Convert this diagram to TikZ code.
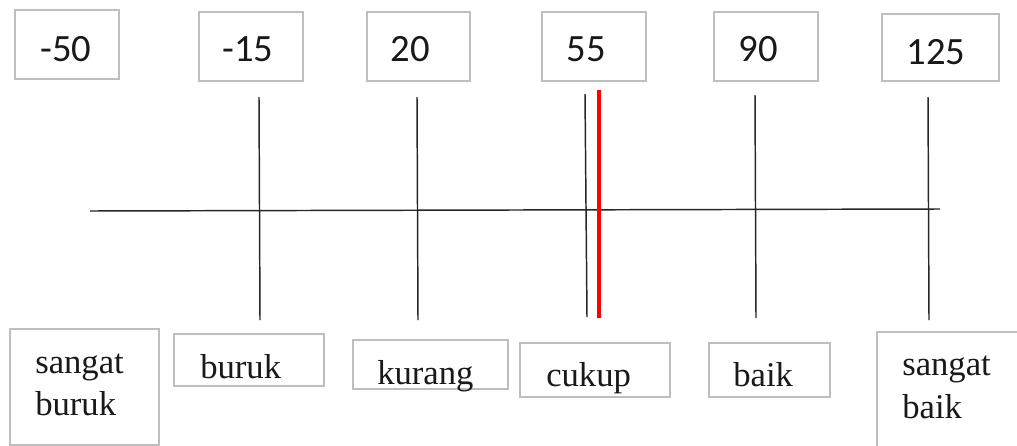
\documentclass[tikz,border=0pt]{standalone}
\usepackage{fontspec}
\setmainfont{LiberationSerif}[Extension=.ttf, UprightFont=*-Regular, BoldFont=*-Bold]
\newfontfamily\numfont{Carlito}
\newfontfamily\lblfont{LiberationSerif}[Extension=.ttf, UprightFont=*-Regular]
\definecolor{boxgray}{RGB}{190,190,190}
\definecolor{tickred}{RGB}{255,0,0}
\begin{document}
\begin{tikzpicture}[x=0.75pt,y=-0.75pt,
  box/.style={draw=boxgray, line width=1.1pt, inner sep=0pt, fill=white},
  numtxt/.style={inner sep=0pt, font=\numfont\fontsize{29pt}{34pt}\selectfont, text=black!90},
  lbltxt/.style={inner sep=0pt, anchor=base west, font=\lblfont\fontsize{26pt}{31pt}\selectfont, text=black!90},
  tick/.style={draw=black!85, line width=1.1pt},
  redtick/.style={draw=tickred, line width=3pt}]
\useasboundingbox (0,0) rectangle (1017,446);
\clip (0,0) rectangle (1017,446);
% top value boxes
\node[box, minimum width=78pt, minimum height=51.75pt] (n1) at (67,44.5) {};
\node[box, minimum width=78pt, minimum height=51.75pt] (n2) at (251,46.5) {};
\node[box, minimum width=77.25pt, minimum height=51.75pt] (n3) at (418.5,46.5) {};
\node[box, minimum width=78pt, minimum height=51.75pt] (n4) at (594,46.5) {};
\node[box, minimum width=78pt, minimum height=51.75pt] (n5) at (766,46.5) {};
\node[box, minimum width=87.75pt, minimum height=50.25pt] (n6) at (940.5,47.5) {};
\node[numtxt] (t1) at (66,49.5) {-50};
\node[numtxt] (t2) at (248,49.5) {-15};
\node[numtxt] (t3) at (410,49.5) {20};
\node[numtxt] (t4) at (586,49.5) {55};
\node[numtxt] (t5) at (758,49.5) {90};
\node[numtxt] (t6) at (936,52) {125};
% axis
\coordinate (axL) at (90,211);
\coordinate (axR) at (940,209);
\draw[tick] (axL) -- (axR);
% ticks
\coordinate (a1) at (259,97);  \coordinate (b1) at (260,320);
\coordinate (a2) at (417,97);  \coordinate (b2) at (418,320);
\coordinate (a3) at (585,94);  \coordinate (b3) at (587,317);
\coordinate (a4) at (755,95);  \coordinate (b4) at (756,318);
\coordinate (a5) at (928,97);  \coordinate (b5) at (929,320);
\coordinate (r1) at (599,90);  \coordinate (r2) at (599,318);
\draw[tick] (a1) -- (b1);
\draw[tick] (a2) -- (b2);
\draw[tick] (a3) -- (b3);
\draw[tick] (a4) -- (b4);
\draw[tick] (a5) -- (b5);
\draw[redtick] (r1) -- (r2);
% bottom label boxes
\node[box, minimum width=111.75pt, minimum height=87pt] (c1) at (84.5,387) {};
\node[box, minimum width=112.5pt, minimum height=39pt] (c2) at (249,360) {};
\node[box, minimum width=116.25pt, minimum height=36.75pt] (c3) at (430.5,364.5) {};
\node[box, minimum width=112.5pt, minimum height=40.5pt] (c4) at (595,370) {};
\node[box, minimum width=90.75pt, minimum height=40.5pt] (c5) at (769.5,370) {};
\node[box, minimum width=122.25pt, minimum height=103.5pt] (c6) at (958.5,401) {};
\node[lbltxt] (l1a) at (35,373) {sangat};
\node[lbltxt] (l1b) at (35,415) {buruk};
\node[lbltxt] (l2) at (200,378) {buruk};
\node[lbltxt] (l3) at (377,384) {kurang};
\node[lbltxt] (l4) at (546,386) {cukup};
\node[lbltxt] (l5) at (733,386) {baik};
\node[lbltxt] (l6a) at (902,375) {sangat};
\node[lbltxt] (l6b) at (902,418) {baik};
\end{tikzpicture}
\end{document}
